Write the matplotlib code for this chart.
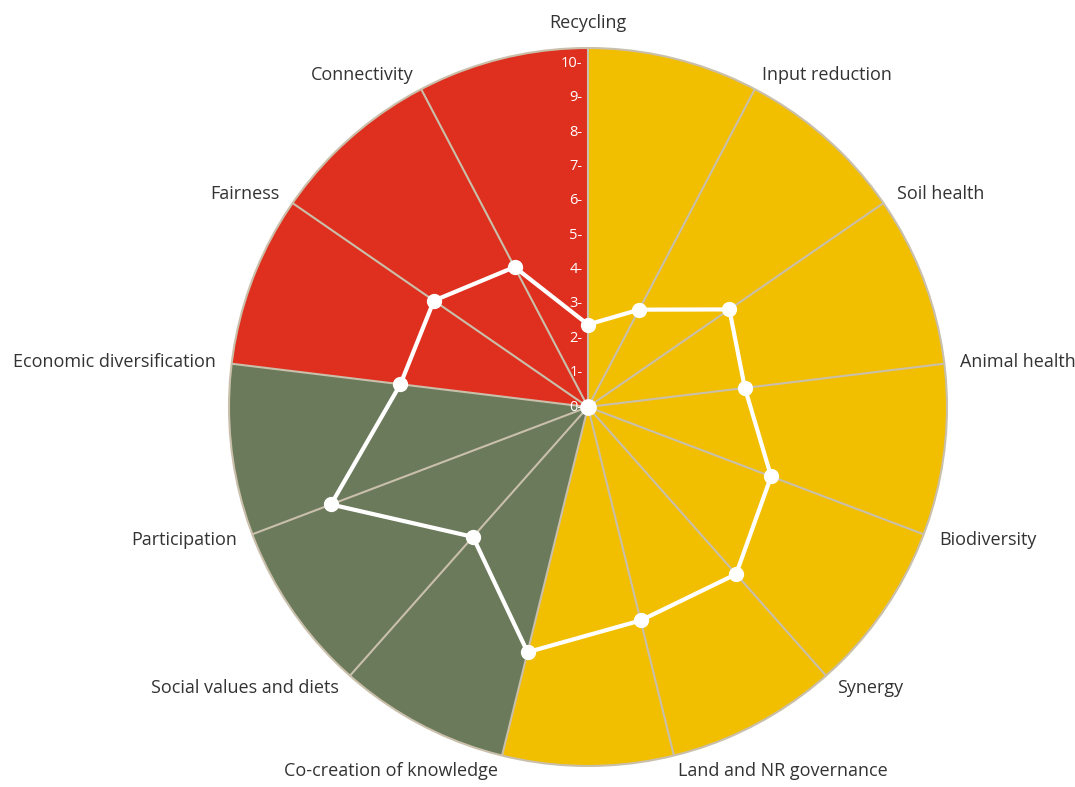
import numpy as np
import matplotlib.pyplot as plt

# categories clockwise from the top
categories = ['Recycling', 'Input reduction', 'Soil health', 'Animal health',
              'Biodiversity', 'Synergy', 'Land and NR governance',
              'Co-creation of knowledge', 'Social values and diets', 'Participation',
              'Economic diversification', 'Fairness', 'Connectivity']
scores = [2.4, 3.2, 5.0, 4.6, 5.7, 6.5, 6.4, 7.35, 5.05, 8.0, 5.5, 5.45, 4.6]
groups = ['env'] * 7 + ['soc'] * 3 + ['eco'] * 3
group_colors = {'env': '#F2BE00', 'soc': '#6A7A5B', 'eco': '#DF301F'}
ticks = list(range(0, 11))

rmax = 10.45
grid_col = '#C9BFAA'

n = len(categories)
theta = np.arange(n) * 2 * np.pi / n
width = 2 * np.pi / n

fig = plt.figure(figsize=(10.75, 7.87), dpi=100)
ax = fig.add_axes([229 / 1075, 21 / 787, 718 / 1075, 718 / 787], projection='polar')
ax.set_theta_zero_location('N')
ax.set_theta_direction(-1)
ax.set_ylim(0, rmax)

# coloured sectors
ax.bar(theta, [rmax] * n, width=width, align='edge',
       color=[group_colors[g] for g in groups], edgecolor='none', zorder=1)

# radial grid lines
for t in theta:
    ax.plot([t, t], [0, rmax], color=grid_col, lw=1.5, zorder=2)

ax.grid(False)
ax.set_xticks([])
ax.set_yticks([])
ax.spines['polar'].set_color(grid_col)
ax.spines['polar'].set_linewidth(1.5)

# score line
tt = np.append(theta, theta[0])
ss = np.append(scores, scores[0])
ax.plot(tt, ss, color='white', lw=3, zorder=4)
ax.plot(theta, scores, 'o', color='white', ms=10, zorder=5)
ax.plot([0], [0], 'o', color='white', ms=11, zorder=5)

# radial tick labels
for v in ticks:
    ax.annotate(str(v) + '-', xy=(0, v), xytext=(-4, 0), textcoords='offset points',
                ha='right', va='center', color='white', fontsize=10.5,
                family='Open Sans', zorder=6)

# category labels
for t, lab in zip(theta, categories):
    s = np.sin(t)
    if abs(s) < 1e-6:
        ax.text(t, rmax * 1.07, lab, ha='center', va='center', fontsize=13,
                color='#333333', family='Open Sans')
    else:
        ax.text(t, rmax * 1.045, lab, ha='left' if s > 0 else 'right', va='center',
                fontsize=13, color='#333333', family='Open Sans')

fig.savefig('out.png', dpi=100)
